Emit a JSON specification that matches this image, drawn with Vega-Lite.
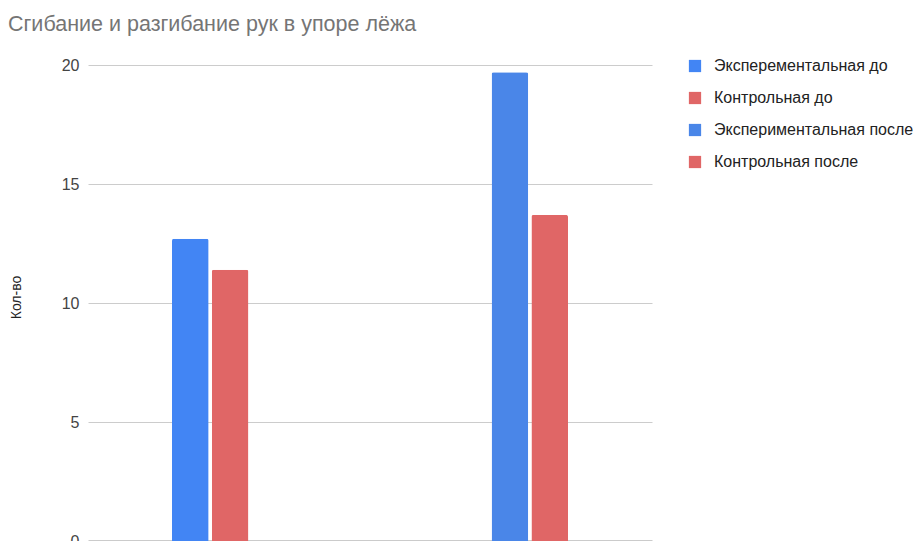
{
  "$schema": "https://vega.github.io/schema/vega-lite/v6.json",
  "autosize": {"type": "none"},
  "width": 564,
  "height": 476,
  "padding": {"left": 88, "top": 65, "right": 263, "bottom": 0},
  "background": "white",
  "title": {
    "text": "Сгибание и разгибание рук в упоре лёжа",
    "anchor": "start",
    "frame": "group",
    "dx": -80,
    "offset": 22,
    "font": "Liberation Sans",
    "fontSize": 21.5,
    "fontWeight": "normal",
    "color": "#757575"
  },
  "data": {
    "values": [
      {"group": "До", "series": "Эксперементальная до", "value": 12.7},
      {"group": "До", "series": "Контрольная до", "value": 11.4},
      {"group": "После", "series": "Экспериментальная после", "value": 19.7},
      {"group": "После", "series": "Контрольная после", "value": 13.7}
    ]
  },
  "mark": {"type": "bar", "cornerRadiusTopLeft": 2, "cornerRadiusTopRight": 2},
  "encoding": {
    "x": {
      "field": "group",
      "type": "nominal",
      "sort": ["До", "После"],
      "scale": {"paddingInner": 0.35, "paddingOuter": 0.35},
      "axis": {"labels": false, "ticks": false, "title": null, "domainColor": "#333333", "domainWidth": 1.5}
    },
    "xOffset": {
      "field": "series",
      "type": "nominal",
      "sort": ["Эксперементальная до", "Контрольная до", "Экспериментальная после", "Контрольная после"],
      "scale": {"paddingInner": 0.08, "paddingOuter": 0}
    },
    "y": {
      "field": "value",
      "type": "quantitative",
      "scale": {"domain": [0, 20], "nice": false},
      "axis": {
        "values": [0, 5, 10, 15, 20],
        "title": "Кол-во",
        "titleFont": "Liberation Sans",
        "titleFontSize": 14,
        "titleFontWeight": "normal",
        "titleColor": "#222222",
        "titlePadding": 38,
        "titleY": 232,
        "labelFont": "Liberation Sans",
        "labelFontSize": 16,
        "labelColor": "#444444",
        "labelPadding": 9,
        "ticks": false,
        "domain": false,
        "gridColor": "#cccccc",
        "gridWidth": 1
      }
    },
    "color": {
      "field": "series",
      "type": "nominal",
      "scale": {
        "domain": ["Эксперементальная до", "Контрольная до", "Экспериментальная после", "Контрольная после"],
        "range": ["#4285f4", "#e06666", "#4a86e8", "#e06666"]
      },
      "legend": {
        "title": null,
        "orient": "none",
        "legendX": 599,
        "legendY": -7,
        "symbolType": "square",
        "symbolSize": 150,
        "symbolStrokeWidth": 0,
        "symbolOpacity": 1,
        "labelFont": "Liberation Sans",
        "labelFontSize": 16,
        "labelLimit": 300,
        "labelColor": "#222222",
        "labelOffset": 11,
        "rowPadding": 16
      }
    }
  },
  "config": {"view": {"stroke": null}}
}
